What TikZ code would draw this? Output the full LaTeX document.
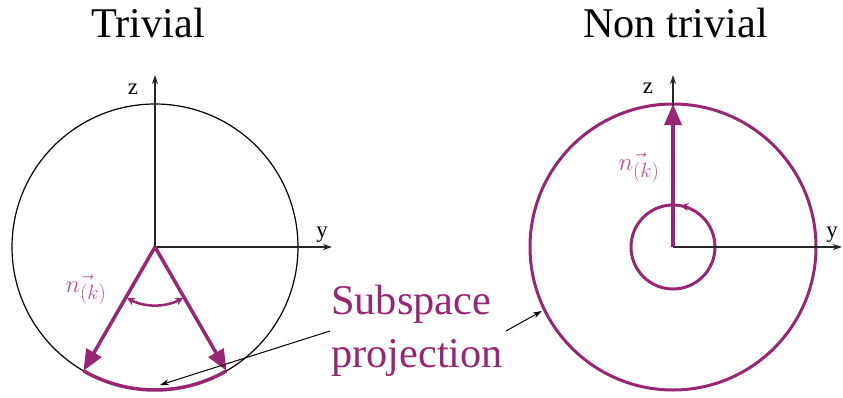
\documentclass[tikz,border=0pt]{standalone}
\usepackage{fontspec}
\setmainfont{Liberation Serif}
\usetikzlibrary{arrows.meta, positioning}

\definecolor{projmag}{RGB}{152,38,112}
\definecolor{labelmag}{RGB}{186,84,148}

\begin{document}
\begin{tikzpicture}[
  x=1bp, y=1bp,
  % Text styles
  title/.style={font=\fontsize{42.5}{50}\selectfont, anchor=base, inner sep=0pt},
  axislabel/.style={font=\fontsize{23}{26}\selectfont, inner sep=0pt},
  veclabel/.style={text=labelmag, font=\fontsize{29}{32}\selectfont, inner sep=0pt},
  projtext/.style={text=projmag, font=\fontsize{42.5}{53}\selectfont,
    align=left, anchor=west, inner sep=0pt},
  % Line styles
  axis/.style={line width=1.1bp, black!85, -{Stealth[length=9bp, width=6bp]}},
  sphere/.style={line width=1.2bp, black},
  orbit/.style={line width=3bp, projmag},
  vec/.style={line width=3.5bp, projmag, -{Triangle[length=21bp, width=17bp]}},
  spread/.style={line width=2.5bp, projmag,
    {Stealth[length=8bp, width=8bp]}-{Stealth[length=8bp, width=8bp]}},
  pointer/.style={line width=1bp, black, -{Stealth[length=9bp, width=6bp]}}
]
\useasboundingbox (0,0) rectangle (843,397);

%% ── Trivial ──────────────────────────────────────────────────
\coordinate (L) at (155,150);
\node[title] (trivial) at (148,360) {Trivial};

\draw[sphere] (L) circle (143);
\draw[axis] (L) -- (155,322) coordinate (Lz);
\draw[axis] (L) -- (332,150) coordinate (Ly);
\node[axislabel] (lzlab) at (133,308) {z};
\node[axislabel] (lylab) at (322,162) {y};

\draw[orbit, line width=3.5bp] ([shift={(L)}]240:143) arc (240:300:143);
\draw[vec] (L) -- ([shift={(L)}]240:143) coordinate (Lleft);
\draw[vec] (L) -- ([shift={(L)}]300:143) coordinate (Lright);
\draw[spread] ([shift={(L)}]241:58) arc (241:299:58);
\node[veclabel] (lnlab) at (86,107) {$\vec{n_{(k)}}$};

%% ── Non trivial ──────────────────────────────────────────────
\coordinate (R) at (673,150);
\node[title] (nontrivial) at (675.5,360) {Non trivial};

\draw[orbit] (R) circle (143);
\draw[orbit] (R) circle (42);
\draw[line width=1.5bp, projmag, -{Stealth[length=8bp, width=8bp]}]
  ([shift={(R)}]60:42) arc (60:80:42);
\draw[axis] (R) -- (673,322) coordinate (Rz);
\draw[axis] (R) -- (842,150) coordinate (Ry);
\node[axislabel] (rzlab) at (648,309) {z};
\node[axislabel] (rylab) at (832,162) {y};

\draw[vec] (R) -- (673,293) coordinate (Rtop);
\node[veclabel] (rnlab) at (639,229) {$\vec{n_{(k)}}$};

%% ── Subspace projection ──────────────────────────────────────
\node[projtext] (proj) at (331,66) {Subspace\\projection};
\coordinate (arcbot) at (160,12);
\coordinate (ringpt) at ([shift={(R)}]206:146);
\draw[pointer] ([xshift=-1bp]proj.west) -- (arcbot);
\draw[pointer] ([xshift=3bp]proj.east) -- (ringpt);

\end{tikzpicture}
\end{document}
